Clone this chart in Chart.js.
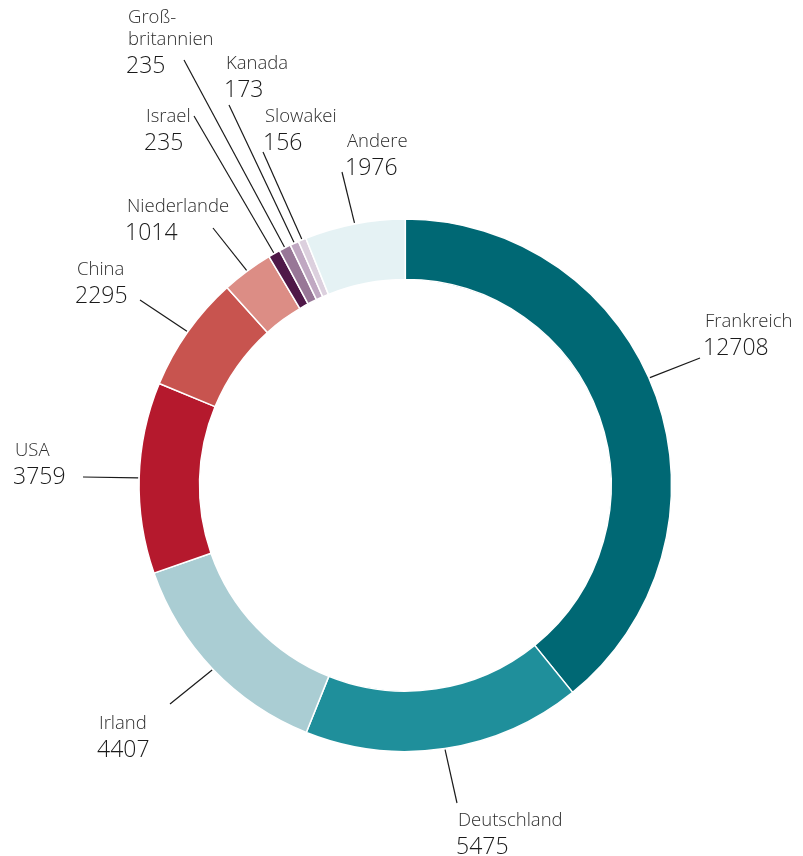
<!DOCTYPE html>
<html>
<head>
<meta charset="utf-8">
<script src="https://cdn.jsdelivr.net/npm/chart.js@4/dist/chart.umd.min.js"></script>
<style>
  html, body { margin: 0; padding: 0; background: #ffffff; }
  #wrap { width: 803px; height: 856px; }
</style>
</head>
<body>
<div id="wrap"><canvas id="donut" width="803" height="856"></canvas></div>
<script>
// Länder und Werte (im Uhrzeigersinn ab 12 Uhr)
const laender = ['Frankreich', 'Deutschland', 'Irland', 'USA', 'China', 'Niederlande',
                 'Israel', 'Groß-\nbritannien', 'Kanada', 'Slowakei', 'Andere'];
const werte = [12708, 5475, 4407, 3759, 2295, 1014, 235, 235, 173, 156, 1976];
const farben = ['#006874', '#1f8f9b', '#aacdd3', '#b5192d', '#c8544f', '#dc8d85',
                '#4f1848', '#987797', '#c0a8c2', '#dcd0de', '#e5f2f4'];

// Position der Beschriftungen (Ende der Linie, Textanker), Winkelkorrektur in Grad
const beschriftung = [
  { lx: 700, ly: 358, tx: 705, ty: 322, nudge: -4.3 },
  { lx: 457, ly: 803, tx: 458, ty: 821 },
  { lx: 170, ly: 704, tx: 99,  ty: 724 },
  { lx: 83,  ly: 477, tx: 15,  ty: 451 },
  { lx: 140, ly: 300, tx: 77,  ty: 270 },
  { lx: 213, ly: 228, tx: 127, ty: 207 },
  { lx: 194, ly: 116, tx: 146, ty: 117 },
  { lx: 184, ly: 60,  tx: 128, ty: 18 },
  { lx: 229, ly: 105, tx: 226, ty: 64 },
  { lx: 263, ly: 152, tx: 265, ty: 117 },
  { lx: 342, ly: 172, tx: 347, ty: 142 }
];

const labelPlugin = {
  id: 'aussenLabels',
  afterDraw(chart) {
    const ctx = chart.ctx;
    const arcs = chart.getDatasetMeta(0).data;
    ctx.save();
    arcs.forEach((arc, i) => {
      const p = arc.getProps(['x', 'y', 'startAngle', 'endAngle', 'outerRadius'], true);
      const b = beschriftung[i];
      const mid = (p.startAngle + p.endAngle) / 2 + (b.nudge || 0) * Math.PI / 180;
      const r = p.outerRadius + 1;
      ctx.beginPath();
      ctx.moveTo(p.x + Math.cos(mid) * r, p.y + Math.sin(mid) * r);
      ctx.lineTo(b.lx, b.ly);
      ctx.strokeStyle = '#1a1a1a';
      ctx.lineWidth = 1.2;
      ctx.stroke();

      const zeilen = chart.data.labels[i].split('\n');
      ctx.fillStyle = '#2e2e2e';
      ctx.textAlign = 'left';
      ctx.textBaseline = 'middle';
      ctx.font = '300 18.5px "Open Sans", "DejaVu Sans", sans-serif';
      let y = b.ty;
      zeilen.forEach(z => { ctx.fillText(z, b.tx, y); y += 22; });
      ctx.fillStyle = '#1a1a1a';
      ctx.font = '300 23px "Open Sans", "DejaVu Sans", sans-serif';
      ctx.fillText(String(werte[i]), b.tx - 2, y + 4);
    });
    ctx.restore();
  }
};

new Chart(document.getElementById('donut'), {
  type: 'doughnut',
  data: {
    labels: laender,
    datasets: [{
      data: werte,
      backgroundColor: farben,
      borderColor: '#ffffff',
      borderWidth: 1.5
    }]
  },
  options: {
    responsive: false,
    animation: false,
    cutout: '77.3%',
    rotation: 0,
    layout: { padding: { left: 138.3, right: 130.7, top: 218.3, bottom: 103.7 } },
    plugins: {
      legend: { display: false },
      tooltip: { enabled: false }
    }
  },
  plugins: [labelPlugin]
});
</script>
</body>
</html>
